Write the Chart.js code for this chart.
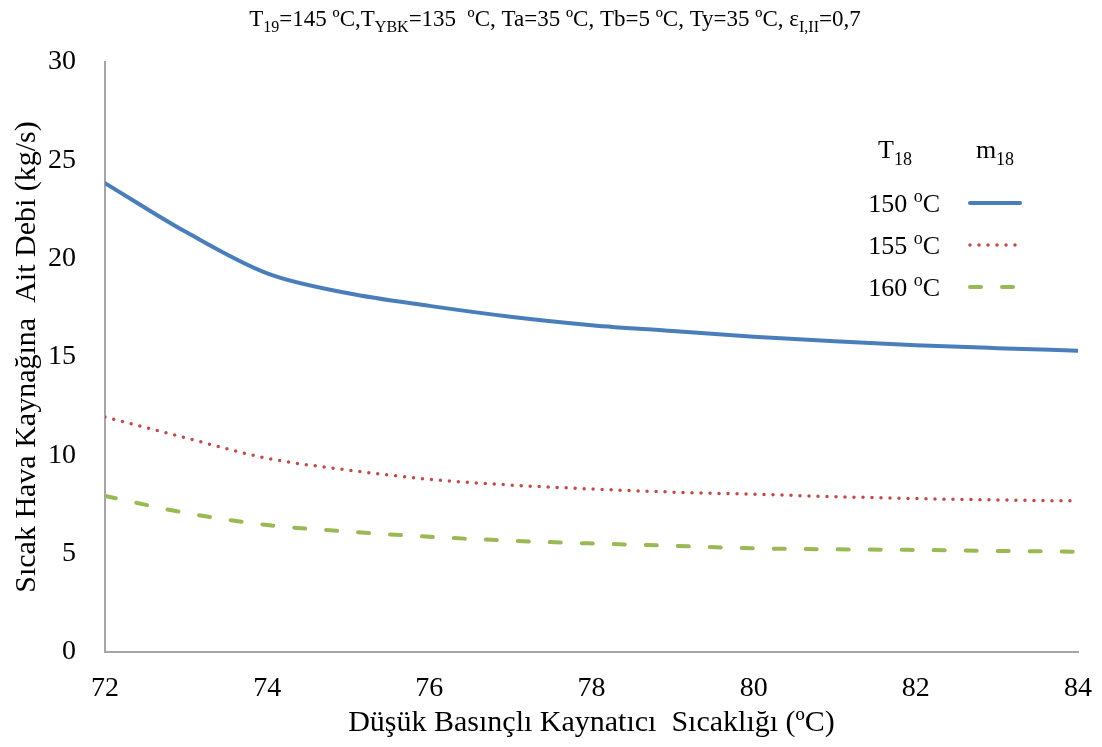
<!DOCTYPE html>
<html>
<head>
  <title>Sıcak Hava Kaynağı Debisi</title>
  <script src="https://cdn.jsdelivr.net/npm/chart.js"></script>
  <style>
    body { margin: 0; background: #fff; }
    #wrap { width: 1102px; height: 747px; }
  </style>
</head>
<body>
  <div id="wrap"><canvas id="debiChart" width="1102" height="747"></canvas></div>

  <script>
    // boiler temperature (°C)
    const temps = [72, 73, 74, 75, 76, 77, 78, 79, 80, 81, 82, 83, 84];
    // hot air mass flow (kg/s) for each T18
    const m150 = [23.84, 21.35, 19.25, 18.24, 17.6, 17.05, 16.62, 16.32, 16.03, 15.8, 15.6, 15.45, 15.32];
    const m155 = [11.95, 10.88, 9.85, 9.25, 8.78, 8.49, 8.29, 8.13, 8.02, 7.9, 7.8, 7.73, 7.68];
    const m160 = [7.93, 7.07, 6.46, 6.12, 5.86, 5.66, 5.52, 5.4, 5.27, 5.22, 5.19, 5.14, 5.1];
    const seriesNames = ["150", "155", "160"];

    const serif = "'Liberation Serif', 'Times New Roman', serif";
    Chart.defaults.color = "#000";
    Chart.defaults.font.family = serif;

    const pts = arr => arr.map((v, i) => ({ x: temps[i], y: v }));

    // draws text pieces, some as sub/superscript
    function richText(ctx, parts, x, y, size, align) {
      const small = Math.round(size * 0.68);
      let w = 0;
      parts.forEach(p => {
        ctx.font = (p.sub || p.sup ? small : size) + "px " + serif;
        p.w = ctx.measureText(p.t).width;
        w += p.w;
      });
      let cx = align === "center" ? x - w / 2 : align === "right" ? x - w : x;
      ctx.textAlign = "left";
      ctx.textBaseline = "alphabetic";
      parts.forEach(p => {
        ctx.font = (p.sub || p.sup ? small : size) + "px " + serif;
        let dy = p.sub ? size * 0.25 : p.sup ? -size * 0.4 : 0;
        ctx.fillText(p.t, cx, y + dy);
        cx += p.w;
      });
    }

    const titlePlugin = {
      id: "richTitle",
      afterDraw(chart) {
        const ctx = chart.ctx;
        ctx.save();
        ctx.fillStyle = "#000";
        richText(ctx, [
          { t: "T" }, { t: "19", sub: true }, { t: "=145 ºC,T" }, { t: "YBK", sub: true },
          { t: "=135  ºC, Ta=35 ºC, Tb=5 ºC, Ty=35 ºC, ε" }, { t: "I,II", sub: true }, { t: "=0,7" }
        ], 555, 26, 23, "center");
        ctx.restore();
      }
    };

    // legend in table form: T18 | m18
    const legendPlugin = {
      id: "tableLegend",
      afterDraw(chart) {
        const ctx = chart.ctx;
        ctx.save();
        ctx.fillStyle = "#000";
        richText(ctx, [{ t: "T" }, { t: "18", sub: true }], 895, 158, 26, "center");
        richText(ctx, [{ t: "m" }, { t: "18", sub: true }], 995, 158, 26, "center");
        chart.data.datasets.forEach((ds, i) => {
          const y = 203 + i * 42;
          ctx.fillStyle = "#000";
          richText(ctx, [{ t: seriesNames[i] + " " }, { t: "o", sup: true }, { t: "C" }], 940, y + 9, 26, "right");
          ctx.strokeStyle = ds.borderColor;
          ctx.lineWidth = ds.borderWidth;
          ctx.lineCap = ds.borderCapStyle || "butt";
          ctx.setLineDash(ds.borderDash || []);
          ctx.beginPath();
          ctx.moveTo(970, y);
          ctx.lineTo(i === 1 ? 1016 : 1020, y);
          ctx.stroke();
        });
        ctx.restore();
      }
    };

    new Chart(document.getElementById("debiChart"), {
      type: "line",
      data: {
        datasets: [
          { label: "150 °C", data: pts(m150), borderColor: "#4a7ebb", borderWidth: 4, borderCapStyle: "round" },
          { label: "155 °C", data: pts(m155), borderColor: "#be4b48", borderWidth: 3.5, borderDash: [0, 9], borderCapStyle: "round" },
          { label: "160 °C", data: pts(m160), borderColor: "#98b954", borderWidth: 4, borderDash: [11, 21], borderCapStyle: "round" }
        ]
      },
      options: {
        responsive: false,
        animation: false,
        elements: { point: { radius: 0 }, line: { cubicInterpolationMode: "monotone", fill: false } },
        layout: { padding: { top: 62, right: 24, bottom: 0, left: 0 } },
        plugins: { legend: { display: false }, tooltip: { enabled: false } },
        scales: {
          x: {
            type: "linear", min: 72, max: 84,
            ticks: { stepSize: 2, font: { size: 28 }, padding: 20 },
            grid: { display: false, drawTicks: false },
            border: { color: "#a6a6a6", width: 2 },
            title: { display: true, text: "Düşük Basınçlı Kaynatıcı  Sıcaklığı (ºC)", font: { size: 30 }, padding: { top: 0, bottom: 6 } },
            afterFit: s => { s.height = 95; s.paddingLeft = 0; s.paddingRight = 0; }
          },
          y: {
            min: 0, max: 30,
            ticks: { stepSize: 5, font: { size: 28 }, padding: 29 },
            grid: { display: false, drawTicks: false },
            border: { color: "#a6a6a6", width: 2 },
            title: { display: true, text: "Sıcak Hava Kaynağına  Ait Debi (kg/s)", font: { size: 30 }, padding: { top: 9, bottom: 0 } },
            afterFit: s => { s.width = 105; }
          }
        }
      },
      plugins: [titlePlugin, legendPlugin]
    });
  </script>
</body>
</html>
